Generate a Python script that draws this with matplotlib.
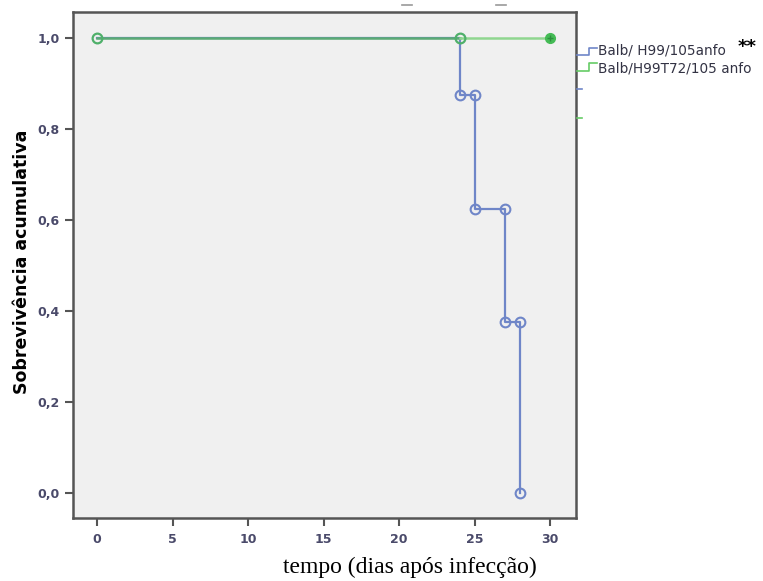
import matplotlib
matplotlib.use("Agg")
import matplotlib.pyplot as plt
from matplotlib.lines import Line2D

# Data
blue_t = [0, 24, 25, 27, 28]
blue_s = [1.0, 0.875, 0.625, 0.375, 0.0]
green_t = [0, 24, 30]
green_s = [1.0, 1.0, 1.0]
labels = ["Balb/ H99/105anfo", "Balb/H99T72/105 anfo"]
xticks = [0, 5, 10, 15, 20, 25, 30]
yticks = [0.0, 0.2, 0.4, 0.6, 0.8, 1.0]
ytick_labels = ["0,0", "0,2", "0,4", "0,6", "0,8", "1,0"]

blue = "#6f86c8"
green_dark = "#5aab74"
green_light = "#8fd68f"
tickcol = "#4a4a6a"

W, H = 763, 581
fig = plt.figure(figsize=(7.63, 5.81), dpi=100)
ax = fig.add_axes([0.0957, 0.1084, 0.659, 0.871])
ax.set_facecolor("#f0f0f0")

# Blue step curve
bx, by = [blue_t[0]], [blue_s[0]]
for i in range(1, len(blue_t)):
    bx += [blue_t[i], blue_t[i]]
    by += [blue_s[i - 1], blue_s[i]]
ax.plot(bx, by, color=blue, lw=1.6, zorder=2)
mx, my = [], []
for i in range(1, len(blue_t)):
    mx += [blue_t[i]]
    my += [blue_s[i]]
    if i < len(blue_t) - 1:
        mx += [blue_t[i + 1]]
        my += [blue_s[i]]
ax.plot(mx, my, ls="none", marker="o", ms=7, mfc="none", mec=blue, mew=1.5, zorder=3)

# Green curve
ax.plot(green_t[:2], green_s[:2], color=green_dark, lw=1.8, zorder=4)
ax.plot(green_t[1:], green_s[1:], color=green_light, lw=1.8, zorder=4)
ax.plot(green_t[:2], green_s[:2], ls="none", marker="o", ms=7, mfc="none",
        mec="#4fb06a", mew=1.6, zorder=5)
ax.plot([green_t[2]], [green_s[2]], ls="none", marker="o", ms=7, mfc="#44bb55",
        mec="#44bb55", zorder=5)
ax.plot([green_t[2]], [green_s[2]], ls="none", marker="+", ms=5, mec="#2e8f3e",
        mew=1, zorder=6)

ax.set_xlim(-1.59, 31.7)
ax.set_ylim(-0.055, 1.057)
ax.set_xticks(xticks)
ax.set_xticklabels([str(v) for v in xticks])
ax.set_yticks(yticks)
ax.set_yticklabels(ytick_labels)
ax.tick_params(direction="out", length=6, width=1.5, color="#555555",
               labelsize=9, labelcolor=tickcol)
ax.tick_params(axis="x", pad=5)
for lab in ax.get_xticklabels() + ax.get_yticklabels():
    lab.set_fontweight("bold")
for sp in ax.spines.values():
    sp.set_color("#555555")
    sp.set_linewidth(1.8)

fig.text(22 / W, 1 - 262 / H, "Sobrevivência acumulativa", fontsize=12.5,
         fontweight="bold", rotation=90, ha="center", va="center")
fig.text(410 / W, 1 - 567 / H, "tempo (dias após infecção)", fontsize=17,
         family="Liberation Serif", ha="center", va="center")

# Legend drawn outside on the right
def step_handle(y_low, y_high, color):
    xs = [577 / W, 589 / W, 589 / W, 597 / W]
    ys = [1 - y_low / H, 1 - y_low / H, 1 - y_high / H, 1 - y_high / H]
    fig.add_artist(Line2D(xs, ys, transform=fig.transFigure, color=color, lw=1.2))

step_handle(55, 48, blue)
step_handle(71, 63, "#66cc66")
fig.text(598 / W, 1 - 51 / H, labels[0], fontsize=9.8, color="#333344", va="center")
fig.text(738 / W, 1 - 47 / H, "**", fontsize=13, fontweight="bold", va="center")
fig.text(598 / W, 1 - 68 / H, labels[1], fontsize=9.8, color="#333344", va="center")
fig.add_artist(Line2D([577 / W, 582 / W], [1 - 89 / H] * 2, transform=fig.transFigure,
                      color=blue, lw=1.2))
fig.add_artist(Line2D([577 / W, 582 / W], [1 - 118 / H] * 2, transform=fig.transFigure,
                      color="#66cc66", lw=1.2))
# small remnants at top
for x0 in (402, 496):
    fig.add_artist(Line2D([x0 / W, (x0 + 10) / W], [1 - 5 / H] * 2,
                          transform=fig.transFigure, color="#999999", lw=1.2))

fig.savefig("out.png", dpi=100)
